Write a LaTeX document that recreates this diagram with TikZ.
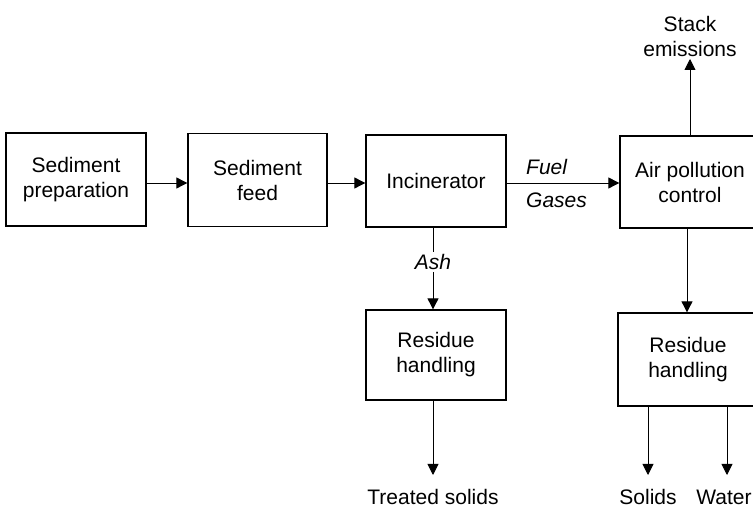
\documentclass[tikz,border=0pt]{standalone}
\usepackage{fontspec}
\setmainfont{Liberation Sans}
\usetikzlibrary{arrows.meta}
\begin{document}
\begin{tikzpicture}[x=1pt,y=-1pt,
  font=\fontsize{21}{25}\selectfont,
  box/.style={draw,line width=1.3pt,minimum width=140pt,align=center,inner sep=0pt},
  arr/.style={line width=0.9pt,-{Triangle[length=11pt,width=11pt]}},
  ln/.style={line width=0.9pt},
  lbl/.style={align=center,inner sep=2pt}]
\clip (0,0) rectangle (753,510);
\node[box,minimum height=93pt] (prep) at (76,179.5) {Sediment\\preparation};
\node[box,minimum height=93pt,minimum width=139pt] (feed) at (257.5,180) {Sediment\\feed};
\node[box,minimum height=92pt] (inc) at (436,181) {Incinerator};
\node[box,minimum height=92pt] (apc) at (690,182) {Air pollution\\control};
\node[box,minimum height=90pt] (res1) at (436,355) {Residue\\handling};
\node[box,minimum height=93pt] (res2) at (688,359.5) {Residue\\handling};
\node[lbl,anchor=south] (stack) at (690,59) {Stack\\emissions};
\node[lbl,font=\fontsize{21}{25}\selectfont\itshape] (ash) at (433,262) {Ash};
\node[lbl,anchor=west,font=\fontsize{21}{25}\selectfont\itshape] (fuel) at (524,167) {Fuel};
\node[lbl,anchor=west,font=\fontsize{21}{25}\selectfont\itshape] (gases) at (524,200) {Gases};
\node[lbl] (treated) at (433,497) {Treated solids};
\node[lbl] (solids) at (648,497) {Solids};
\node[lbl,inner sep=0pt] (water) at (724,497) {Water};
\coordinate (tip1) at (433,475);
\coordinate (tip2) at (648,475);
\coordinate (tip3) at (727,475);
\draw[arr] (prep.east |- 0,183) -- (feed.west |- 0,183);
\draw[arr] (feed.east |- 0,183) -- (inc.west |- 0,183);
\draw[arr] (inc.east |- 0,183) -- (apc.west |- 0,183);
\draw[ln] (inc.south -| ash) -- (ash.north);
\draw[arr] (ash.south) -- (res1.north -| ash);
\draw[arr] (res1.south -| tip1) -- (tip1);
\draw[arr] (apc.south -| 687,0) -- (res2.north -| 687,0);
\draw[arr] (apc.north -| stack) -- (stack.south);
\draw[arr] (res2.south -| tip2) -- (tip2);
\draw[arr] (res2.south -| tip3) -- (tip3);
\end{tikzpicture}
\end{document}
